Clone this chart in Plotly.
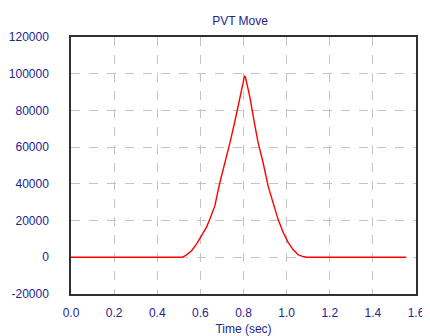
import plotly.graph_objects as go

time_sec = [0.0, 0.516, 0.536, 0.559, 0.582, 0.605, 0.628, 0.644, 0.667, 0.690,
            0.714, 0.737, 0.760, 0.783, 0.805, 0.809, 0.829, 0.852, 0.868, 0.891,
            0.914, 0.937, 0.960, 0.984, 1.007, 1.030, 1.053, 1.076, 1.092, 1.555]
velocity = [0, 0, 1300, 3600, 7200, 11700, 16300, 20800, 28000, 40600,
            51500, 62300, 74100, 87600, 98800, 98100, 87600, 72300, 62300, 51500,
            38900, 29800, 20800, 13500, 8100, 4200, 1400, 400, 0, 0]

x_ticks = [0.0, 0.2, 0.4, 0.6, 0.8, 1.0, 1.2, 1.4, 1.6]
x_labels = ["0.0", "0.2", "0.4", "0.6", "0.8", "1.0", "1.2", "1.4", "1.6"]
y_ticks = [-20000, 0, 20000, 40000, 60000, 80000, 100000, 120000]
y_labels = ["-20000", "0", "20000", "40000", "60000", "80000", "100000", "120000"]

navy = "#24248f"
font_family = "Liberation Sans, Arial, sans-serif"

fig = go.Figure()
fig.add_trace(go.Scatter(x=time_sec, y=velocity, mode="lines",
                         line=dict(color="#ff0000", width=1.4), showlegend=False))

fig.update_layout(
    width=422, height=328,
    margin=dict(l=63, r=14, t=29, b=42, autoexpand=False),
    paper_bgcolor="white", plot_bgcolor="white",
    title=dict(text="PVT Move", x=0.49, xref="paper", xanchor="center",
               y=0.96, yref="container", yanchor="middle",
               font=dict(family=font_family, size=12, color=navy)),
    font=dict(family=font_family, size=12, color=navy),
)
fig.update_xaxes(range=[0, 1.6], tickvals=x_ticks, ticktext=x_labels, automargin=False,
                 showgrid=True, gridcolor="#c4c4c4", griddash="dash", gridwidth=1,
                 showline=True, linecolor="#303030", linewidth=1.5, mirror=True,
                 ticks="", zeroline=False, ticklabelstandoff=7,
                 title=dict(text="Time (sec)", standoff=5,
                            font=dict(family=font_family, size=12, color=navy)),
                 tickfont=dict(family=font_family, size=12, color=navy))
fig.update_yaxes(range=[-20000, 120000], tickvals=y_ticks, ticktext=y_labels, automargin=False,
                 showgrid=True, gridcolor="#c4c4c4", griddash="dash", gridwidth=1,
                 showline=True, linecolor="#303030", linewidth=1.5, mirror=True,
                 ticks="", zeroline=False, ticklabelstandoff=18,
                 tickfont=dict(family=font_family, size=12, color=navy))

fig.write_html("out.html")
